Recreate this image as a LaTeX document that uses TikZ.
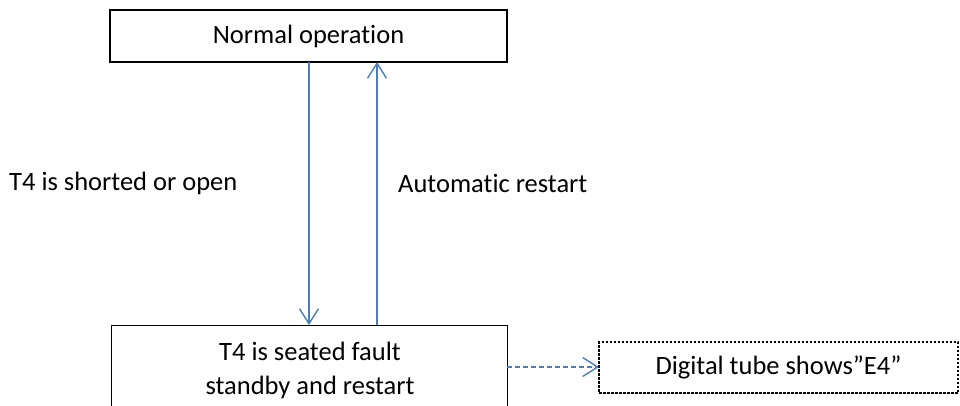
\documentclass[tikz,border=0pt]{standalone}
\usepackage{fontspec}
\setmainfont[Ligatures=NoCommon]{Carlito}
\usetikzlibrary{arrows.meta}
\definecolor{lineblue}{HTML}{4A7EBB}
\tikzset{
  box/.style={draw=black, line width=1.3pt, inner sep=0pt},
  dbox/.style={draw=black, line width=1.1pt, dash pattern=on 2.5pt off 1.5pt, inner sep=0pt},
  flow/.style={draw=lineblue, line width=1.4pt, -{Straight Barb[length=15pt,width=19pt,line width=1.4pt]}},
  dflow/.style={flow, dash pattern=on 5pt off 3pt},
  lbl/.style={font=\fontsize{26.5}{31}\selectfont, inner sep=0pt}
}
\begin{document}
\begin{tikzpicture}[x=1pt,y=-1pt]
\useasboundingbox (0,0) rectangle (960,405);
\node[box, minimum width=397pt, minimum height=52pt] (top) at (308.5,36) {};
\node[lbl] (toptxt) at (top.center) {Normal operation};
\node[box, minimum width=396pt, minimum height=100pt, anchor=north west] (bot) at (111,325) {};
\node[lbl, align=center] (bottxt) at (310,370) {T4 is seated fault\\[3pt] standby and restart};
\node[dbox, minimum width=359pt, minimum height=51pt] (dig) at (778.5,367.5) {};
\node[lbl] (digtxt) at (dig.center) {Digital tube shows”E4”};
\coordinate (d1) at (309,62);
\coordinate (d2) at (309,325);
\coordinate (u1) at (377,325);
\coordinate (u2) at (377,62);
\coordinate (h1) at (507,367);
\coordinate (h2) at (599,367);
\draw[flow] (d1) -- (d2);
\draw[flow] (u1) -- (u2);
\draw[dflow] (h1) -- (h2);
\node[lbl, anchor=west] (lab1) at (9,183) {T4 is shorted or open};
\node[lbl, anchor=west] (lab2) at (398,183) {Automatic restart};
\end{tikzpicture}
\end{document}
